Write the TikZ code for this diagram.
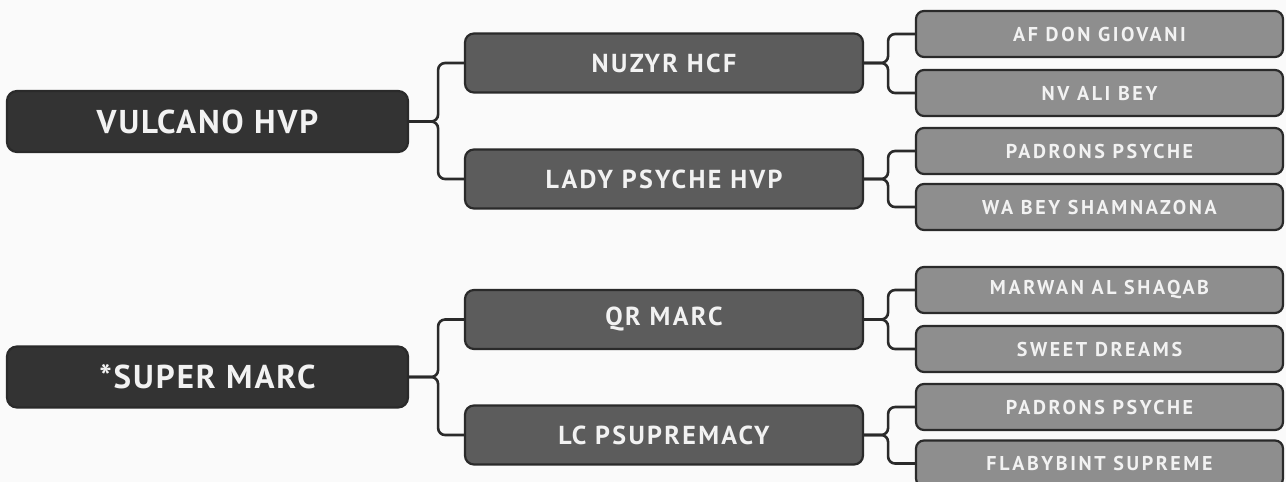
\documentclass[tikz,border=0pt]{standalone}
\usepackage{fontspec}
\setmainfont{PT Sans}
\newfontfamily\dinA[LetterSpace=6]{PT Sans}
\newfontfamily\dinB[LetterSpace=9]{PT Sans}
\newfontfamily\dinC[LetterSpace=13]{PT Sans}
\definecolor{bgc}{HTML}{FAFAFA}
\definecolor{lvA}{HTML}{333333}
\definecolor{lvB}{HTML}{5C5C5C}
\definecolor{lvC}{HTML}{8E8E8E}
\definecolor{edgec}{HTML}{2A2A2A}
\definecolor{txtc}{HTML}{F2F2F2}
\tikzset{
  boxA/.style={draw=edgec, line width=2.2pt, fill=lvA, rounded corners=10pt,
    minimum width=401pt, minimum height=61pt, inner sep=0pt, text=txtc,
    font=\dinA\bfseries\fontsize{33}{36}\selectfont},
  boxB/.style={draw=edgec, line width=2.2pt, fill=lvB, rounded corners=9pt,
    minimum width=398pt, minimum height=59pt, inner sep=0pt, text=txtc,
    font=\dinB\bfseries\fontsize{26}{28}\selectfont},
  boxC/.style={draw=edgec, line width=2.2pt, fill=lvC, rounded corners=8pt,
    minimum width=367pt, minimum height=46pt, inner sep=0pt, text=txtc,
    font=\dinC\bfseries\fontsize{20}{22}\selectfont},
  conn/.style={draw=edgec, line width=2.6pt, rounded corners=7pt},
}
\begin{document}
\begin{tikzpicture}[x=1pt,y=-1pt]
\useasboundingbox[fill=bgc] (0,0) rectangle (1286,482);

\node[boxA] (a1) at (207.5,121.5) {VULCANO HVP};
\node[boxA] (a2) at (207.5,377) {*SUPER MARC};

\node[boxB] (b1) at (664,63) {NUZYR HCF};
\node[boxB] (b2) at (664,179) {LADY PSYCHE HVP};
\node[boxB] (b3) at (664,319.5) {QR MARC};
\node[boxB] (b4) at (664,435) {LC PSUPREMACY};

\node[boxC] (c1) at (1099.5,34) {AF DON GIOVANI};
\node[boxC] (c2) at (1099.5,93) {NV ALI BEY};
\node[boxC] (c3) at (1099.5,151) {PADRONS PSYCHE};
\node[boxC] (c4) at (1099.5,207) {WA BEY SHAMNAZONA};
\node[boxC] (c5) at (1099.5,290) {MARWAN AL SHAQAB};
\node[boxC] (c6) at (1099.5,349) {SWEET DREAMS};
\node[boxC] (c7) at (1099.5,407) {PADRONS PSYCHE};
\node[boxC] (c8) at (1099.5,463.5) {FLABYBINT SUPREME};

\foreach \p/\c in {a1/b1,a1/b2,a2/b3,a2/b4}{
  \draw[conn] (\p.east) -- ++(29,0) |- (\c.west);
}
\foreach \p/\c in {b1/c1,b1/c2,b2/c3,b2/c4,b3/c5,b3/c6,b4/c7,b4/c8}{
  \draw[conn] (\p.east) -- ++(24,0) |- (\c.west);
}
\end{tikzpicture}
\end{document}
